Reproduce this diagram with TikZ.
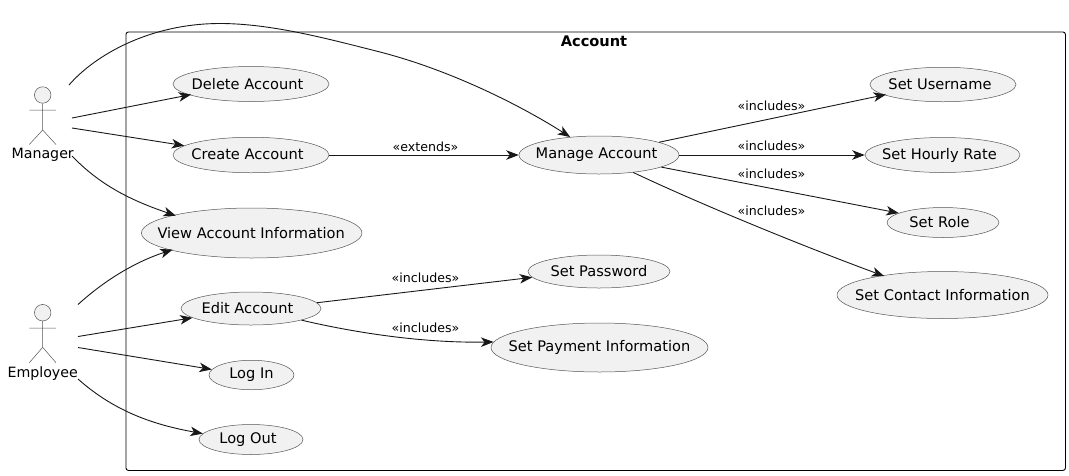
\documentclass[tikz,border=0pt]{standalone}
\usepackage{fontspec}
\setmainfont{DejaVu Sans}
\usetikzlibrary{shapes.geometric,arrows.meta}
\definecolor{ink}{HTML}{181818}
\definecolor{edge}{HTML}{555555}
\definecolor{ucfill}{HTML}{F1F1F1}
\newcommand{\uctext}[2][0pt]{\raisebox{1pt}{\makebox[0pt][c]{\hspace*{#1}#2}}}
\tikzset{
  uc/.style={ellipse,draw=edge,fill=ucfill,line width=.5pt,inner sep=0pt,font=\fontsize{14.6}{16}\selectfont},
  rel/.style={draw=ink,line width=.9pt,-{Stealth[length=12.5pt,width=9.5pt,inset=3.5pt]}},
  reach/.style={shorten >=-2pt},
  lab/.style={inner sep=0pt,text=black,font=\fontsize{12.6}{15}\selectfont},
  actname/.style={inner sep=0pt,text=black,font=\fontsize{14.2}{16}\selectfont},
  head/.style={circle,draw=edge,fill=ucfill,line width=.5pt,inner sep=0pt,minimum size=16.5pt},
  limb/.style={draw=edge,line width=.5pt},
  frame/.style={draw=black,line width=.9pt,rounded corners=2.5pt},
}
\begin{document}
\begin{tikzpicture}[x=1pt,y=-1pt]
\useasboundingbox (0,0) rectangle (1069,475);
\node[minimum width=939.5pt,minimum height=438.5pt,inner sep=0pt,frame,anchor=north west] (acc) at (125.5,31.5) {};
\node[inner sep=0pt,text=black,font=\fontsize{14.6}{16}\selectfont\bfseries] (acct) at (594,41) {Account};

% use cases
\node[uc,minimum width=156pt,minimum height=35pt] (del) at (251,84) {\uctext[-7pt]{Delete Account}};
\node[uc,minimum width=156pt,minimum height=35.5pt] (cre) at (251,155) {\uctext[-7pt]{Create Account}};
\node[uc,minimum width=220.5pt,minimum height=50pt] (view) at (251.7,233) {\uctext[-1pt]{View Account Information}};
\node[uc,minimum width=140pt,minimum height=33pt] (edit) at (251,308.5) {\uctext[-7pt]{Edit Account}};
\node[uc,minimum width=85pt,minimum height=29.5pt] (login) at (251.5,375) {\uctext{Log In}};
\node[uc,minimum width=104pt,minimum height=30pt] (logout) at (251,439.5) {\uctext[-6pt]{Log Out}};
\node[uc,minimum width=160pt,minimum height=38pt] (man) at (599,155) {\uctext[-5pt]{Manage Account}};
\node[uc,minimum width=146pt,minimum height=34.5pt] (user) at (943,84.5) {\uctext[-6pt]{Set Username}};
\node[uc,minimum width=155pt,minimum height=35pt] (rate) at (942.5,155) {\uctext[-6pt]{Set Hourly Rate}};
\node[uc,minimum width=112pt,minimum height=30pt] (role) at (943,222.5) {\uctext[-7pt]{Set Role}};
\node[uc,minimum width=211pt,minimum height=47pt] (cont) at (942.5,295) {\uctext{Set Contact Information}};
\node[uc,minimum width=142pt,minimum height=33pt] (pass) at (599,271.5) {\uctext{Set Password}};
\node[uc,minimum width=217pt,minimum height=49pt] (pay) at (599.5,347.5) {\uctext{Set Payment Information}};

% actors
\node[head] (mh) at (42.7,95) {};
\node[actname] (mn) at (42.7,155) {Manager};
\coordinate (mb) at (42.7,130);
\coordinate (mal) at (29.3,110); \coordinate (mar) at (56,110);
\coordinate (mll) at (29.3,144.5); \coordinate (mlr) at (56,144.5);
\draw[limb] (mh.south) -- (mb) (mal) -- (mar) (mll) -- (mb) -- (mlr);

\node[head] (eh) at (42.7,312.7) {};
\node[actname] (en) at (42.7,373.5) {Employee};
\coordinate (eb) at (42.7,347.3);
\coordinate (eal) at (29.3,328); \coordinate (ear) at (56,328);
\coordinate (ell) at (29.3,362.7); \coordinate (elr) at (56,362.7);
\draw[limb] (eh.south) -- (eb) (eal) -- (ear) (ell) -- (eb) -- (elr);

% connector free ends
\coordinate (m1) at (69,85); \coordinate (m2) at (72,118); \coordinate (m3) at (72,128); \coordinate (m4) at (72,156);
\coordinate (e1) at (78,304.5); \coordinate (e2) at (78,336.5); \coordinate (e3) at (78,347.5); \coordinate (e4) at (78,379);

\draw[rel] (m1) .. controls (95,55) and (150,23.5) .. (220,23.5) .. controls (270,23.5) and (325,38) .. (380,52) .. controls (450,70) and (520,105) .. (man.148.2);
\draw[rel,reach] (m2) -- (del.190.4);
\draw[rel] (m3) -- (cre.172.1);
\draw[rel,reach] (m4) .. controls (100,185) and (130,200) .. (view.167.5);
\draw[rel,reach] (e1) .. controls (105,280) and (135,262) .. (view.192.5);
\draw[rel] (e2) -- (edit.189.3);
\draw[rel] (e3) -- (login.172.5);
\draw[rel] (e4) .. controls (115,412) and (155,425) .. (logout.173.4);
\draw[rel] (cre.east) -- (man.west);
\draw[rel,reach] (man.12.2) -- (user.190.8);
\draw[rel] (man.east) -- (rate.west);
\draw[rel] (man.-11.1) -- (role.168.7);
\draw[rel,reach] (man.-27.3) .. controls (700,204) and (800,245) .. (cont.162.6);
\draw[rel] (edit.5.4) -- (pass.185);
\draw[rel] (edit.-13.5) .. controls (365,335) and (430,343) .. (pay.177.8);

% labels
\node[lab] (l1) at (771.5,105.5) {«includes»};
\node[lab] (l2) at (771.5,145.5) {«includes»};
\node[lab] (l3) at (771.5,173.5) {«includes»};
\node[lab] (l4) at (771.5,210.5) {«includes»};
\node[lab] (l5) at (425.5,146.5) {«extends»};
\node[lab] (l6) at (425.5,277.5) {«includes»};
\node[lab] (l7) at (425.5,327.5) {«includes»};
\end{tikzpicture}
\end{document}
